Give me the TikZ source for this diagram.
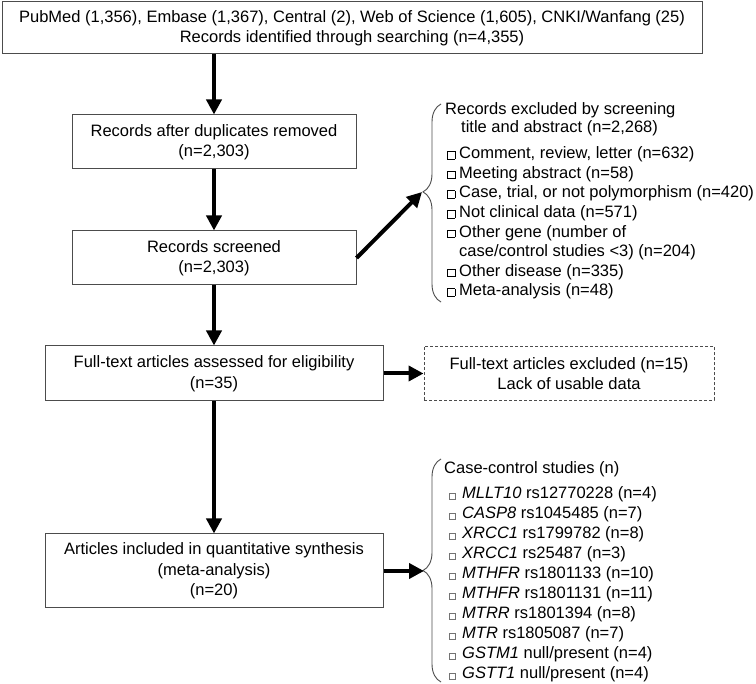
\documentclass[tikz,border=0pt]{standalone}
\usepackage{fontspec}
\setmainfont{Liberation Sans}
\usetikzlibrary{positioning,arrows.meta,decorations.pathreplacing}
\newcommand{\flowfont}{\fontsize{16.5}{20.5}\selectfont}
\newcommand{\exsq}{\makebox[12pt][l]{{\fboxsep=0pt\fboxrule=0.6pt\fbox{\rule{0pt}{7pt}\hspace{7pt}}}}}
\newcommand{\ccsq}{\makebox[13pt][l]{{\color{black!55}\fboxsep=0pt\fboxrule=0.7pt\fbox{\rule{0pt}{5.5pt}\hspace{5.5pt}}}}}
\begin{document}
\begin{tikzpicture}[x=1pt, y=-1pt, every node/.style={font=\flowfont},
    stage/.style={draw=black!70, line width=1pt, inner sep=0pt, align=center},
    flow/.style={line width=4pt, -{Triangle[length=15pt, width=15pt]}},
    entry/.style={anchor=west, inner sep=0pt, text height=12pt, text depth=3.5pt},
    curly/.style={decorate, draw=black!70, line width=0.9pt, decoration={brace, amplitude=18pt, aspect=#1}}]
    \useasboundingbox (0,0) rectangle (756,684);

    \node[stage, minimum width=700pt, minimum height=52pt] (search) at (352,28) {PubMed (1,356), Embase (1,367), Central (2), Web of Science (1,605), CNKI/Wanfang (25)\\Records identified through searching (n=4,355)};
    \node[stage, minimum width=284pt, minimum height=54pt] (dup) at (214,142) {Records after duplicates removed\\(n=2,303)};
    \node[stage, minimum width=284pt, minimum height=54pt] (screen) at (214,258) {Records screened\\(n=2,303)};
    \node[stage, minimum width=338pt, minimum height=55pt] (fulltext) at (214,373.5) {Full-text articles assessed for eligibility\\(n=35)};
    \node[stage, minimum width=338pt, minimum height=74pt] (included) at (214,571) {Articles included in quantitative synthesis\\(meta-analysis)\\(n=20)};
    \node[stage, dashed, dash pattern=on 3pt off 2pt, line width=0.9pt, minimum width=290pt, minimum height=54pt] (excluded) at (569,373.5) {Full-text articles excluded (n=15)\\Lack of usable data};

    \draw[flow] (dup.north |- search.south) -- (dup.north);
    \draw[flow] (dup.south) -- (screen.north);
    \draw[flow] (screen.south) -- (fulltext.north);
    \draw[flow] (fulltext.south) -- (included.north);
    \draw[flow] (fulltext.east) -- (excluded.west);

    \draw[curly=0.556] (441,302) -- (441,104);
    \coordinate (exctip) at (422,192);
    \draw[flow] (screen.east) -- (exctip);
    \node[entry] (exhead) at (445,110.5) {Records excluded by screening};
    \node[entry] (exheadb) at (461,128.5) {title and abstract (n=2,268)};
    \node[entry] (ex1) at (447,154.5) {\exsq Comment, review, letter (n=632)};
    \node[entry] (ex2) at (447,174.1) {\exsq Meeting abstract (n=58)};
    \node[entry] (ex3) at (447,193.7) {\exsq Case, trial, or not polymorphism (n=420)};
    \node[entry] (ex4) at (447,213.3) {\exsq Not clinical data (n=571)};
    \node[entry] (ex5) at (447,232.9) {\exsq Other gene (number of};
    \node[entry] (ex5b) at (447,252.5) {\hspace{12pt}case/control studies <3) (n=204)};
    \node[entry] (ex6) at (447,272.1) {\exsq Other disease (n=335)};
    \node[entry] (ex7) at (447,291.7) {\exsq Meta-analysis (n=48)};

    \draw[curly=0.5] (441,682) -- (441,459);
    \coordinate (inctip) at (424,571);
    \draw[flow] (included.east) -- (inctip);
    \node[entry] (cchead) at (444,469.5) {Case-control studies (n)};
    \node[entry] (cc1) at (449,494.5) {\ccsq\textit{MLLT10} rs12770228 (n=4)};
    \node[entry] (cc2) at (449,514.5) {\ccsq\textit{CASP8} rs1045485 (n=7)};
    \node[entry] (cc3) at (449,534.5) {\ccsq\textit{XRCC1} rs1799782 (n=8)};
    \node[entry] (cc4) at (449,554.5) {\ccsq\textit{XRCC1} rs25487 (n=3)};
    \node[entry] (cc5) at (449,574.5) {\ccsq\textit{MTHFR} rs1801133 (n=10)};
    \node[entry] (cc6) at (449,594.5) {\ccsq\textit{MTHFR} rs1801131 (n=11)};
    \node[entry] (cc7) at (449,614.5) {\ccsq\textit{MTRR} rs1801394 (n=8)};
    \node[entry] (cc8) at (449,634.5) {\ccsq\textit{MTR} rs1805087 (n=7)};
    \node[entry] (cc9) at (449,654.5) {\ccsq\textit{GSTM1} null/present (n=4)};
    \node[entry] (cc10) at (449,674.5) {\ccsq\textit{GSTT1} null/present (n=4)};
\end{tikzpicture}
\end{document}
